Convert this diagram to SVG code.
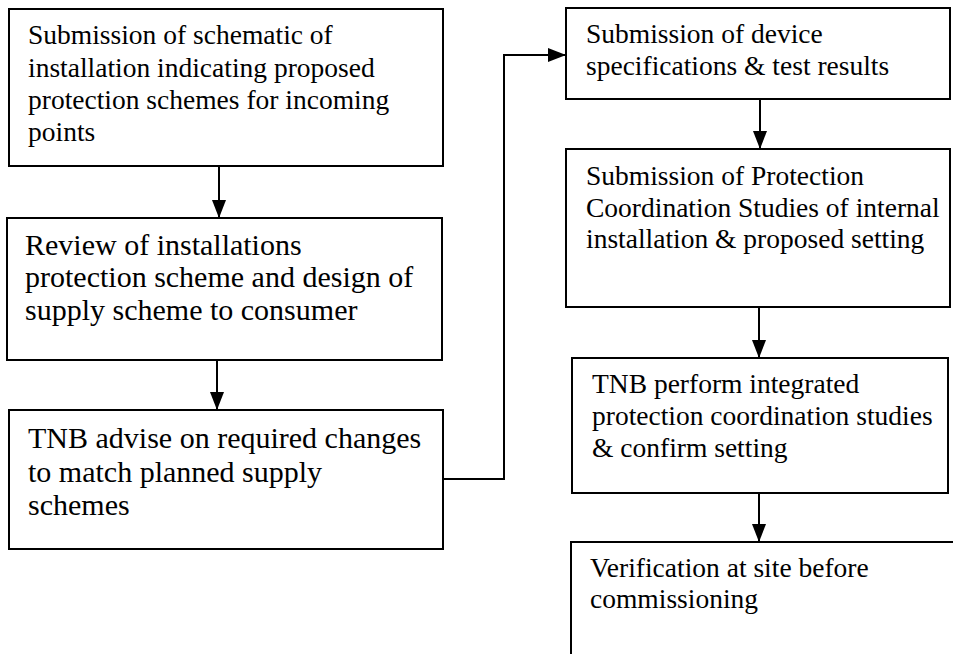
<svg xmlns="http://www.w3.org/2000/svg" width="953" height="654" viewBox="0 0 953 654" font-family="'Liberation Serif', 'Times New Roman', 'DejaVu Serif', serif">
<defs>
<style>
.box{fill:#fff;stroke:#000;stroke-width:2}
text{font-family:'Liberation Serif','Times New Roman','DejaVu Serif',serif;font-size:27.5px;fill:#000}
.tb{font-size:30px}
.c{fill:none;stroke:#000;stroke-width:2}
</style>
<marker id="ah" markerUnits="userSpaceOnUse" markerWidth="18" markerHeight="14" refX="18" refY="7" orient="auto">
<path d="M0,0 L18,7 L0,14 Z" fill="#000"/>
</marker>
</defs>
<rect width="953" height="654" fill="#fff"/>
<g id="connectors">
<path class="c" d="M219,166 V218" marker-end="url(#ah)"/>
<path class="c" d="M217,360 V410" marker-end="url(#ah)"/>
<path class="c" d="M443,479 H504 V55 H566" marker-end="url(#ah)"/>
<path class="c" d="M760,99 V149" marker-end="url(#ah)"/>
<path class="c" d="M759,307 V358" marker-end="url(#ah)"/>
<path class="c" d="M759,493 V542" marker-end="url(#ah)"/>
</g>
<g id="n1">
<rect class="box" x="9" y="9" width="434" height="157"/>
<text x="28" y="44">Submission of schematic of</text>
<text x="28" y="77">installation indicating proposed</text>
<text x="28" y="109">protection schemes for incoming</text>
<text x="28" y="141">points</text>
</g>
<g id="n2">
<rect class="box" x="7" y="218" width="435" height="142"/>
<text class="tb" x="25" y="255">Review of installations</text>
<text class="tb" x="25" y="287">protection scheme and design of</text>
<text class="tb" x="25" y="320">supply scheme to consumer</text>
</g>
<g id="n3">
<rect class="box" x="9" y="410" width="434" height="139"/>
<text class="tb" x="28" y="448">TNB advise on required changes</text>
<text class="tb" x="28" y="482">to match planned supply</text>
<text class="tb" x="28" y="515">schemes</text>
</g>
<g id="n4">
<rect class="box" x="566" y="8" width="384" height="91"/>
<text x="586" y="43">Submission of device</text>
<text x="586" y="75">specifications &amp; test results</text>
</g>
<g id="n5">
<rect class="box" x="566" y="149" width="384" height="158"/>
<text x="586" y="185">Submission of Protection</text>
<text x="586" y="217">Coordination Studies of internal</text>
<text x="586" y="248">installation &amp; proposed setting</text>
</g>
<g id="n6">
<rect class="box" x="572" y="358" width="376" height="135"/>
<text x="592" y="393">TNB perform integrated</text>
<text x="592" y="425">protection coordination studies</text>
<text x="592" y="457">&amp; confirm setting</text>
</g>
<g id="n7">
<rect class="box" x="571" y="542" width="400" height="130"/>
<text x="590" y="577">Verification at site before</text>
<text x="590" y="608">commissioning</text>
</g>
</svg>
